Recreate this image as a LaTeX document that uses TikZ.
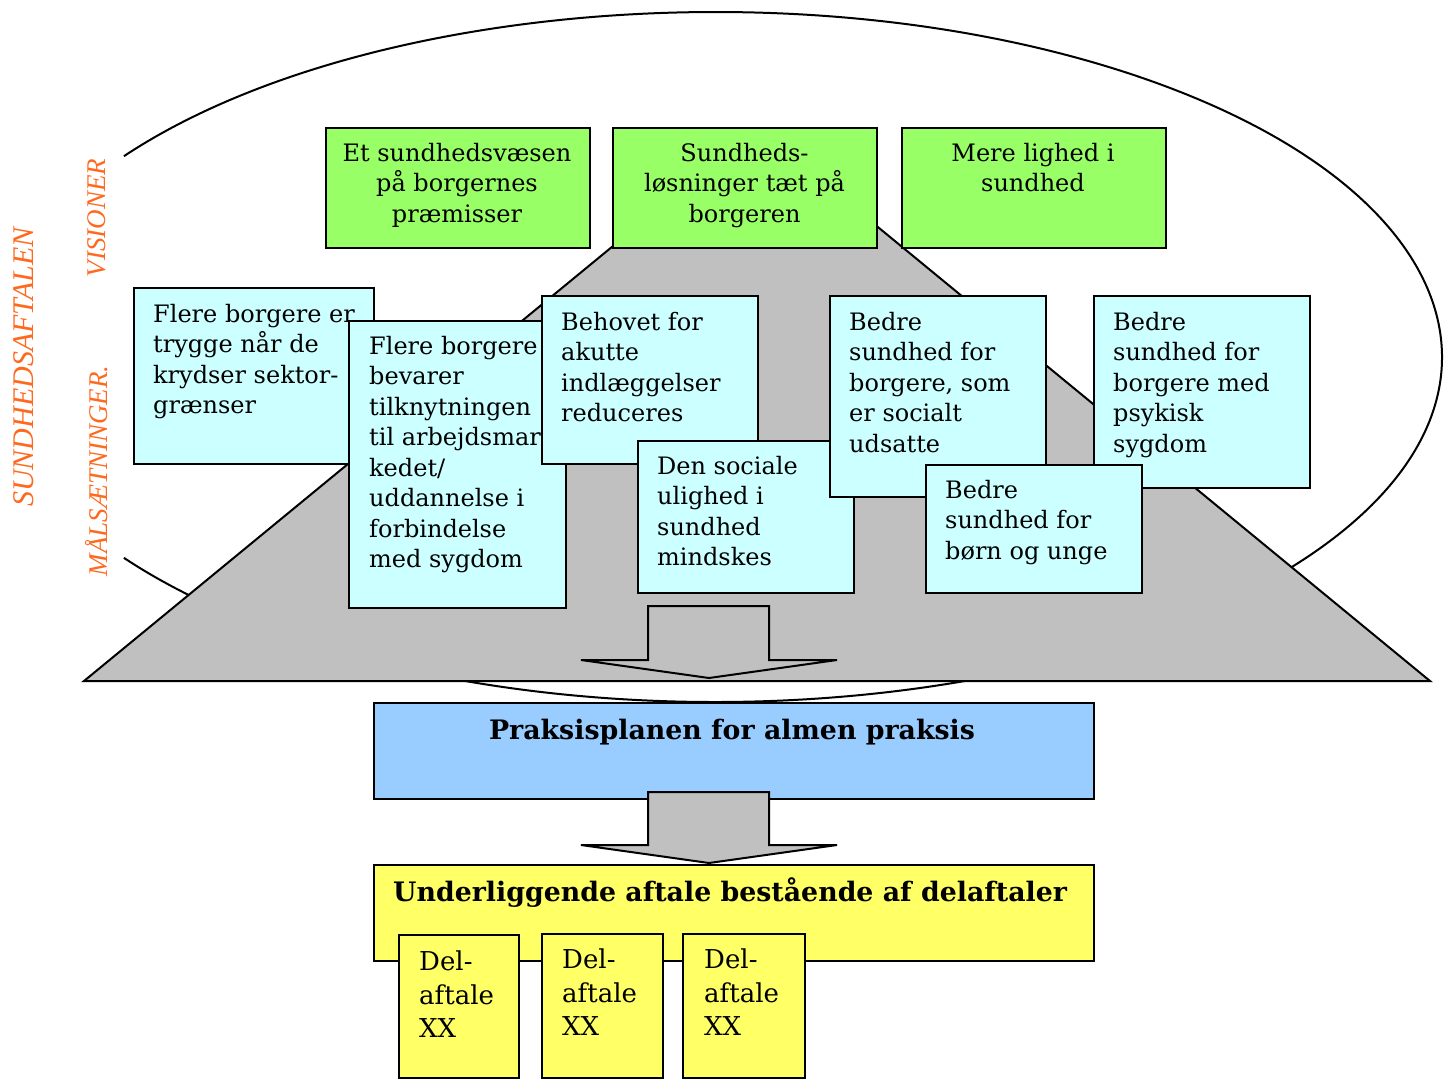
\documentclass[tikz,border=0pt]{standalone}
\usepackage{fontspec}
\setmainfont{DejaVu Serif}
\newfontfamily\orfont{Liberation Serif}
\definecolor{vgreen}{HTML}{99FF66}
\definecolor{vcyan}{HTML}{CCFFFF}
\definecolor{vblue}{HTML}{99CCFF}
\definecolor{vyellow}{HTML}{FFFF66}
\definecolor{vgray}{HTML}{C0C0C0}
\definecolor{vorange}{RGB}{255,105,30}
\begin{document}
\begin{tikzpicture}[x=1pt,y=-1pt,line join=miter,
  boxbase/.style={draw=black,line width=2pt,inner sep=0pt,anchor=north west},
  gbox/.style={boxbase,fill=vgreen,minimum width=264,minimum height=120},
  cbox/.style={boxbase,fill=vcyan},
  ybox/.style={boxbase,fill=vyellow},
  shapeline/.style={draw=black,line width=2pt,fill=vgray},
  gtext/.style={inner sep=0pt,anchor=north,align=center,font=\fontsize{24}{30.5}\selectfont,execute at begin node=\strut},
  ctext/.style={inner sep=0pt,anchor=north west,align=left,font=\fontsize{24}{30.5}\selectfont,execute at begin node=\strut},
  dtext/.style={inner sep=0pt,anchor=north west,align=left,font=\fontsize{26}{33.5}\selectfont,execute at begin node=\strut},
  ttext/.style={inner sep=0pt,font=\fontsize{26.8}{34}\bfseries\selectfont},
  otext/.style={inner sep=0pt,rotate=90,text=vorange,font=\orfont\itshape\fontsize{27}{30}\selectfont}
]
\useasboundingbox (0,0) rectangle (1450,1079);

% ellipse arc
\coordinate (E1) at (123.9,156.2);
\draw[line width=2pt] (E1) arc[start angle=215.6,end angle=504.4,x radius=727,y radius=345];

% trapezoid
\coordinate (T1) at (669,200);
\coordinate (T2) at (845,200);
\coordinate (T3) at (1430,681);
\coordinate (T4) at (84,681);
\path[shapeline] (T1) -- (T2) -- (T3) -- (T4) -- cycle;

% arrow 1
\path[shapeline] (648,606) -- (769,606) -- (769,660) -- (837,660) -- (709,678) -- (581,660) -- (648,660) -- cycle;

% green boxes
\node[gbox] (G1) at (325,127) {};
\node[gtext] (G1t) at (457,143) {Et sundhedsvæsen\\på borgernes\\præmisser};
\node[gbox] (G2) at (612,127) {};
\node[gtext] (G2t) at (744.5,143) {Sundheds-\\løsninger tæt på\\borgeren};
\node[gbox] (G3) at (901,127) {};
\node[gtext] (G3t) at (1033,143) {Mere lighed i\\sundhed};

% cyan boxes
\node[cbox,minimum width=240,minimum height=176] (A) at (133,287) {};
\node[ctext] (At) at (153,304) {Flere borgere er\\trygge når de\\krydser sektor-\\grænser};
\node[cbox,minimum width=217,minimum height=287] (B) at (348,320) {};
\node[ctext] (Bt) at (369,336) {Flere borgere\\bevarer\\tilknytningen\\til arbejdsmar-\\kedet/\\uddannelse i\\forbindelse\\med sygdom};
\node[cbox,minimum width=216,minimum height=168] (C) at (541,295) {};
\node[ctext] (Ct) at (561,312) {Behovet for\\akutte\\indlæggelser\\reduceres};
\node[cbox,minimum width=216,minimum height=152] (D) at (637,440) {};
\node[ctext] (Dt) at (657,456) {Den sociale\\ulighed i\\sundhed\\mindskes};
\node[cbox,minimum width=216,minimum height=201] (E) at (829,295) {};
\node[ctext] (Et) at (849,312) {Bedre\\sundhed for\\borgere, som\\er socialt\\udsatte};
\node[cbox,minimum width=216,minimum height=192] (F) at (1093,295) {};
\node[ctext] (Ft) at (1113,312) {Bedre\\sundhed for\\borgere med\\psykisk\\sygdom};
\node[cbox,minimum width=216,minimum height=128] (Gb) at (925,464) {};
\node[ctext] (Gbt) at (945,480) {Bedre\\sundhed for\\børn og unge};

% blue box
\node[boxbase,fill=vblue,minimum width=720,minimum height=96] (P) at (373,702) {};
\node[ttext,anchor=north] (Pt) at (732,715) {\strut Praksisplanen for almen praksis};

% arrow 2
\path[shapeline] (648,792) -- (769,792) -- (769,845) -- (837,845) -- (709,863) -- (581,845) -- (648,845) -- cycle;

% yellow box
\node[ybox,minimum width=720,minimum height=96] (U) at (373,864) {};
\node[ttext,anchor=north west] (Ut) at (393,877) {\strut Underliggende aftale bestående af delaftaler};

% del-aftale boxes
\node[ybox,minimum width=120,minimum height=143] (D1) at (398,934) {};
\node[dtext] (D1t) at (419,951) {Del-\\aftale\\XX};
\node[ybox,minimum width=121,minimum height=144] (D2) at (541,933) {};
\node[dtext] (D2t) at (562,949) {Del-\\aftale\\XX};
\node[ybox,minimum width=122,minimum height=144] (D3) at (682,933) {};
\node[dtext] (D3t) at (704,949) {Del-\\aftale\\XX};

% orange side texts
\node[otext,font=\orfont\itshape\fontsize{30}{32}\selectfont] (S1) at (24,367) {SUNDHEDSAFTALEN};
\node[otext] (S2) at (97,218) {VISIONER};
\node[otext] (S3) at (97,471) {MÅLSÆTNINGER.};
\end{tikzpicture}
\end{document}
